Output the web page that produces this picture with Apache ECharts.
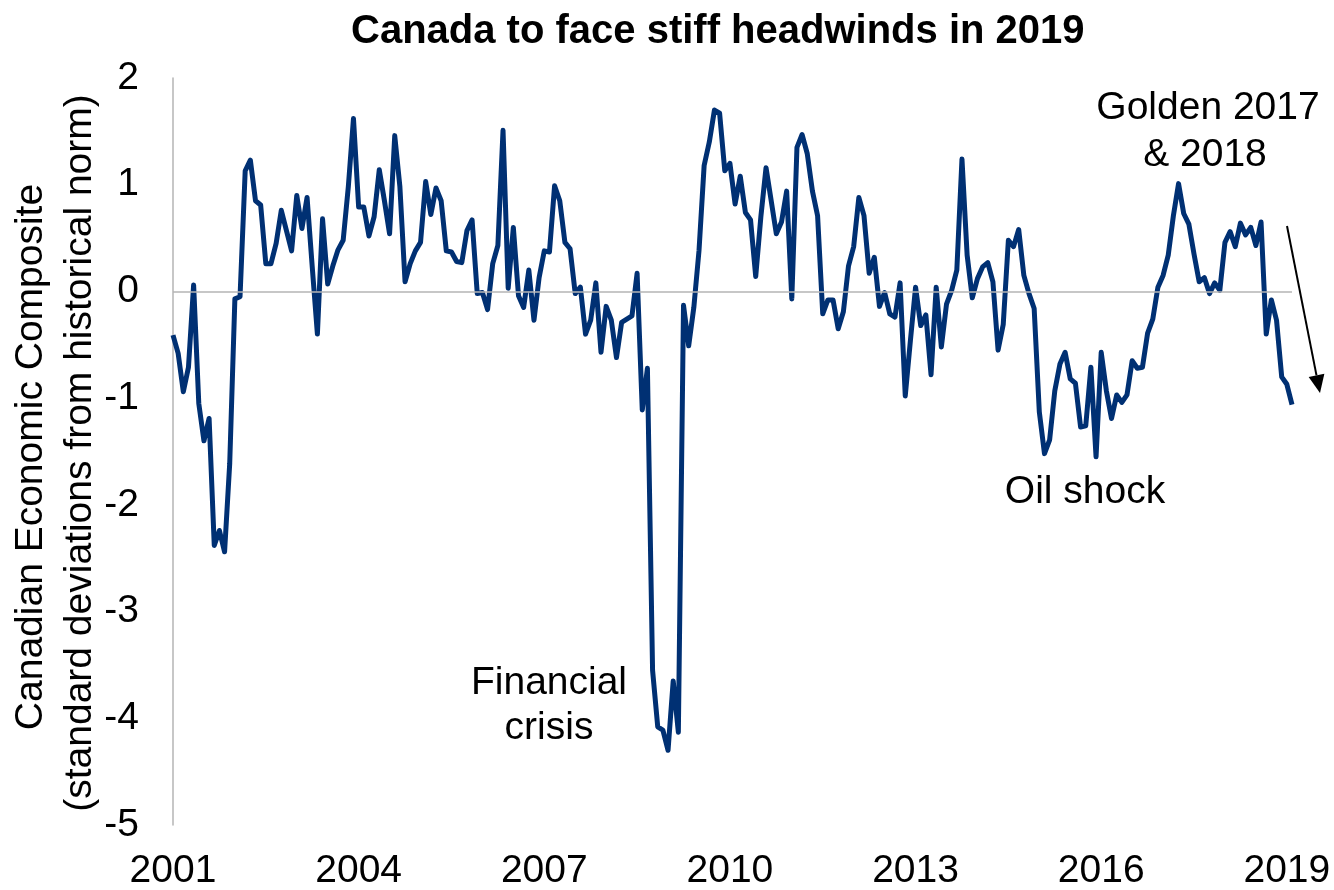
<!DOCTYPE html>
<html><head><meta charset="utf-8">
<script src="https://cdn.jsdelivr.net/npm/echarts@6/dist/echarts.min.js"></script>
<style>html,body{margin:0;padding:0;background:#fff}#c{width:1334px;height:890px}</style>
</head><body><div id="c"></div>
<script>
// Monthly values, Jan 2001 .. Feb 2019
const startYear = 2001;
const v2001_2003 = [
  -0.41,-0.58,-0.94,-0.71,0.06,-1.05,-1.40,-1.19,-2.38,-2.24,-2.44,-1.61,
  -0.07,-0.05,1.13,1.23,0.85,0.81,0.26,0.26,0.45,0.76,0.57,0.38,
  0.90,0.59,0.88,0.23,-0.40,0.68,0.07,0.24,0.39,0.48,0.98,1.62
];
const v2004_2006 = [
  0.79,0.79,0.52,0.70,1.14,0.85,0.54,1.46,0.98,0.09,0.26,0.38,
  0.46,1.03,0.72,0.97,0.85,0.38,0.37,0.28,0.27,0.57,0.67,-0.02,
  -0.01,-0.17,0.26,0.43,1.51,0.03,0.60,-0.04,-0.15,0.20,-0.27,0.13
];
const v2007_2009 = [
  0.38,0.37,0.99,0.85,0.46,0.40,-0.02,0.04,-0.40,-0.27,0.08,-0.57,
  -0.14,-0.27,-0.62,-0.29,-0.26,-0.23,0.17,-1.11,-0.72,-3.55,-4.08,-4.11,
  -4.30,-3.65,-4.13,-0.13,-0.51,-0.15,0.38,1.18,1.40,1.70,1.67,1.13
];
const v2010_2012 = [
  1.20,0.82,1.08,0.74,0.67,0.14,0.70,1.16,0.85,0.54,0.65,0.94,
  -0.07,1.35,1.47,1.29,0.94,0.71,-0.21,-0.08,-0.08,-0.35,-0.19,0.24,
  0.42,0.88,0.71,0.17,0.32,-0.14,-0.01,-0.21,-0.24,0.08,-0.98,-0.46
];
const v2013_2015 = [
  0.04,-0.32,-0.22,-0.78,0.04,-0.52,-0.12,0.01,0.20,1.24,0.34,-0.06,
  0.12,0.23,0.27,0.09,-0.55,-0.31,0.48,0.42,0.58,0.15,-0.02,-0.16,
  -1.13,-1.52,-1.39,-0.93,-0.68,-0.57,-0.82,-0.86,-1.27,-1.26,-0.71,-1.55
];
const v2016_2018 = [
  -0.57,-0.93,-1.19,-0.97,-1.04,-0.97,-0.65,-0.72,-0.71,-0.39,-0.26,0.04,
  0.15,0.34,0.71,1.01,0.73,0.63,0.35,0.09,0.13,-0.02,0.08,0.01,
  0.46,0.56,0.42,0.64,0.53,0.60,0.43,0.65,-0.40,-0.08,-0.27,-0.80
];
const v2019 = [-0.87,-1.06];

const values = [].concat(v2001_2003, v2004_2006, v2007_2009, v2010_2012, v2013_2015, v2016_2018, v2019);
const categories = values.map((_, i) => (startYear + Math.floor(i / 12)) + '-' + String(i % 12 + 1).padStart(2, '0'));
const yMin = -5, yMax = 2, yStep = 1;
const labelEvery = 36;
const yName1 = 'Canadian Economic Composite';
const yName2 = '(standard deviations from historical norm)';

const FONT = '"Liberation Sans", Arial, sans-serif';
const FS = 39;
const chart = echarts.init(document.getElementById('c'));

// arrow geometry (annotation)
const aStart = [1287, 226], aTip = [1320, 393];
const dx = aTip[0] - aStart[0], dy = aTip[1] - aStart[1];
const L = Math.hypot(dx, dy), ux = dx / L, uy = dy / L;
const hl = 18, hw = 8;
const bx = aTip[0] - hl * ux, by = aTip[1] - hl * uy;

function txt(text, x, y, rot) {
  return { type: 'text', x: x, y: y, rotation: rot || 0,
    style: { text: text, x: 0, y: 0, textAlign: 'center', textVerticalAlign: 'middle', font: FS + 'px ' + FONT, fill: '#000' } };
}

chart.setOption({
  animation: false,
  title: {
    text: 'Canada to face stiff headwinds in 2019',
    left: 346, top: 7,
    textStyle: { fontFamily: FONT, fontSize: 40, fontWeight: 'bold', color: '#000' }
  },
  grid: { left: 173, right: 42, top: 78, bottom: 65, outerBoundsMode: 'none', containLabel: false },
  xAxis: {
    type: 'category', data: categories, boundaryGap: false,
    axisLine: { show: false }, axisTick: { show: false }, splitLine: { show: false },
    axisLabel: {
      interval: (i) => i % labelEvery === 0,
      formatter: (v) => v.slice(0, 4),
      fontFamily: FONT, fontSize: FS, color: '#000', margin: 27
    }
  },
  yAxis: {
    type: 'value', min: yMin, max: yMax, interval: yStep,
    axisLine: { show: true, lineStyle: { color: '#b4b4b4', width: 1.5 } },
    axisTick: { show: false }, splitLine: { show: false },
    axisLabel: { fontFamily: FONT, fontSize: FS, color: '#000', margin: 34 }
  },
  series: [{
    type: 'line', data: values, symbol: 'none', smooth: false,
    lineStyle: { color: '#003073', width: 5, join: 'round' },
    markLine: {
      silent: true, symbol: 'none', label: { show: false },
      lineStyle: { color: '#b4b4b4', width: 1.5, type: 'solid' },
      data: [{ yAxis: 0 }]
    }
  }],
  graphic: [
    txt(yName1, 31, 457, Math.PI / 2),
    txt(yName2, 80, 453, Math.PI / 2),
    txt('Golden 2017', 1208, 108),
    txt('& 2018', 1205, 155),
    txt('Oil shock', 1085, 492),
    txt('Financial', 549, 683),
    txt('crisis', 549, 728),
    { type: 'line', shape: { x1: aStart[0], y1: aStart[1], x2: bx, y2: by }, style: { stroke: '#000', lineWidth: 2 } },
    { type: 'polygon', shape: { points: [[aTip[0], aTip[1]], [bx + hw * uy, by - hw * ux], [bx - hw * uy, by + hw * ux]] }, style: { fill: '#000' } }
  ]
});
</script>
</body></html>
